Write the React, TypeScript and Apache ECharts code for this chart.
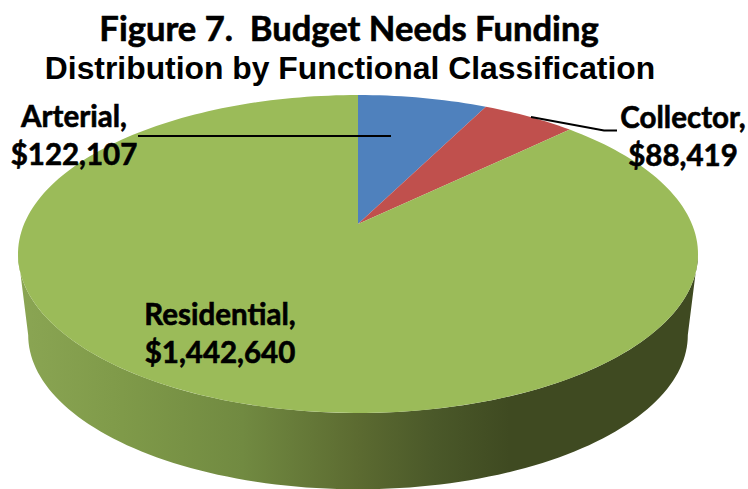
import React, { useEffect, useRef } from "react";
import * as echarts from "echarts";

const categories = ["Arterial", "Collector", "Residential"];
const funding = [122107, 88419, 1442640];
const titleLines = ["Figure 7.  Budget Needs Funding", "Distribution by Functional Classification"];
const sliceColors = ["#4f81bd", "#c0504d", "#9bbb59"];

// Perspective disc: circle in the plane mapped through a simple homography.
const CX = 358;
const CY = 224;
const HALF_W = 333.9;
const HALF_H = 153.3;
const PERSPECTIVE = 0.1887;
// Rim of the underside of the disc.
const WALL_DROP = 82;
const WALL_SCALE = 0.97;

const FRONT_START = (Math.acos(-PERSPECTIVE) * 180) / Math.PI;
const FRONT_END = 360 - FRONT_START;

const labelFont = {
  fontFamily: "Lato",
  fontWeight: 700,
  fontSize: 29.5,
  lineHeight: 38,
  stroke: "#000000",
  lineWidth: 0.6,
};
const labelSpots = [
  { x: 74, y: 134 },
  { x: 683, y: 135 },
  { x: 220, y: 332 },
];
const leaderLines = [
  [[138, 136], [391, 136]],
  [[531, 117], [604, 130.5], [617, 130.5]],
];

function project(deg: number, lower = false): number[] {
  const t = (deg * Math.PI) / 180;
  const w = 1 + PERSPECTIVE * Math.cos(t);
  const x = (HALF_W * Math.sin(t)) / w;
  const y = (-HALF_H * Math.cos(t)) / w;
  return lower
    ? [CX + x * WALL_SCALE, CY + WALL_DROP + y * WALL_SCALE]
    : [CX + x, CY + y];
}

function arc(from: number, to: number, lower = false): number[][] {
  const steps = Math.max(2, Math.ceil(Math.abs(to - from) / 1.5));
  const pts: number[][] = [];
  for (let i = 0; i <= steps; i++) pts.push(project(from + ((to - from) * i) / steps, lower));
  return pts;
}

const total = funding.reduce((a, b) => a + b, 0);
function sliceRange(i: number): number[] {
  const before = funding.slice(0, i).reduce((a, b) => a + b, 0);
  return [(before / total) * 360, ((before + funding[i]) / total) * 360];
}

const wallFill = new echarts.graphic.LinearGradient(
  22, 0, 690, 0,
  [
    { offset: 0, color: "#8aa553" },
    { offset: 0.15, color: "#7f9a49" },
    { offset: 0.33, color: "#718a41" },
    { offset: 0.5, color: "#5c6b31" },
    { offset: 0.62, color: "#4a5829" },
    { offset: 0.73, color: "#3f4a21" },
    { offset: 1, color: "#3f4a21" },
  ],
  true
);

function renderWall(params: any) {
  const [a, b] = sliceRange(params.dataIndex);
  const from = Math.max(a, FRONT_START);
  const to = Math.min(b, FRONT_END);
  if (to <= from) return { type: "group", children: [] };
  return {
    type: "polygon",
    shape: { points: [...arc(from, to), ...arc(to, from, true)] },
    style: { fill: wallFill },
  };
}

function renderTop(params: any) {
  const [a, b] = sliceRange(params.dataIndex);
  return {
    type: "polygon",
    shape: { points: [[CX, CY], ...arc(a, b)] },
    style: { fill: sliceColors[params.dataIndex] },
  };
}

function renderLabel(params: any) {
  const i = params.dataIndex;
  const spot = labelSpots[i];
  return {
    type: "text",
    style: {
      text: `${categories[i]},\n$${funding[i].toLocaleString("en-US")}`,
      x: spot.x,
      y: spot.y,
      align: "center",
      verticalAlign: "middle",
      fill: "#000000",
      ...labelFont,
    },
  };
}

function renderLeader(params: any) {
  return {
    type: "polyline",
    shape: { points: leaderLines[params.dataIndex] },
    style: { stroke: "#000000", lineWidth: 2, fill: "none" },
  };
}

const customSeries = (renderItem: any, data: any[], z: number) => ({
  type: "custom",
  coordinateSystem: "none",
  renderItem,
  data,
  z,
  silent: true,
  clip: false,
});

export default function App() {
  const ref = useRef<HTMLDivElement>(null);
  useEffect(() => {
    const chart = echarts.init(ref.current!, undefined, { renderer: "svg" });
    chart.setOption({
      animation: false,
      backgroundColor: "#ffffff",
      title: [
        {
          text: titleLines[0],
          left: 344,
          top: 5,
          textAlign: "center",
          textStyle: {
            fontFamily: "Lato",
            fontWeight: 700,
            fontSize: 34.6,
            color: "#000000",
            textBorderColor: "#000000",
            textBorderWidth: 0.6,
          },
        },
        {
          text: titleLines[1],
          left: 345,
          top: 47,
          textAlign: "center",
          textStyle: { fontFamily: "Liberation Sans", fontWeight: 700, fontSize: 31.85, color: "#000000" },
        },
      ],
      series: [
        customSeries(renderWall, funding, 1),
        customSeries(renderTop, funding, 2),
        customSeries(renderLeader, leaderLines.map((_, i) => i), 3),
        customSeries(renderLabel, funding, 4),
      ],
    });
    return () => chart.dispose();
  }, []);
  return (
    <div
      ref={ref}
      style={{ position: "absolute", left: 0, top: 0, width: 748, height: 489 }}
    />
  );
}
